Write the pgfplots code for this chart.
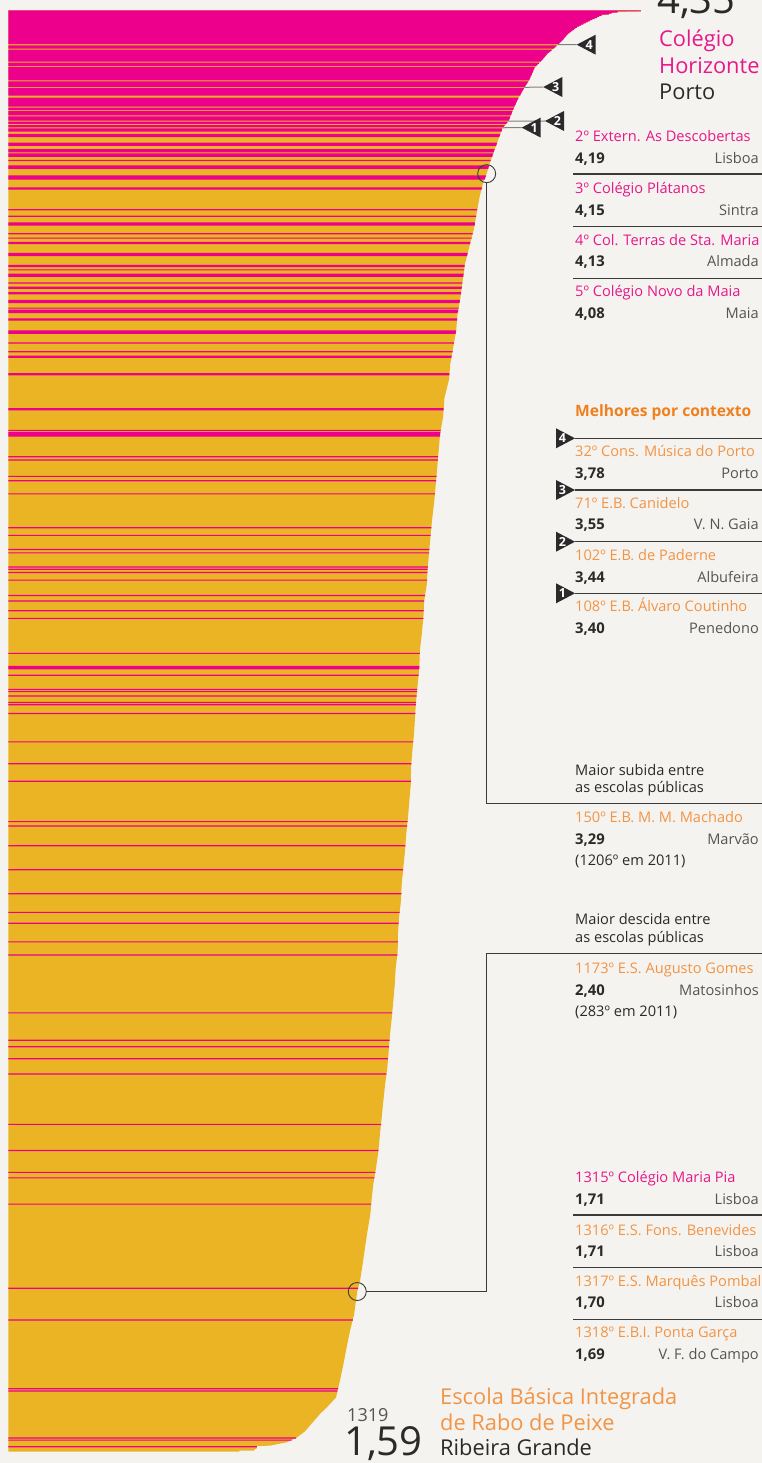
\documentclass[border=0pt]{standalone}
\usepackage{pgfplots}
\usepackage{pgfplotstable}
\pgfplotsset{compat=1.18}
\usepackage{fontspec}
\setmainfont{Open Sans}
\definecolor{bg}{HTML}{F5F3EF}
\definecolor{gold}{HTML}{EBB424}
\definecolor{mag}{HTML}{EC008C}
\definecolor{magtxt}{HTML}{E8178A}
\definecolor{org}{HTML}{F29445}
\definecolor{orgb}{HTML}{F07F1E}
\definecolor{dark}{HTML}{2A2A2A}
\definecolor{city}{HTML}{555555}
\definecolor{rule}{HTML}{3A3A3A}

% envelope of all 1319 bars (score, rank)
\pgfplotstableread{
score rank
0 0.5
4.35 0.5
4.35 1.5
4.19 2
4.15 3
4.13 4
4.08 5
4.00 10
3.91 16
3.85 22
3.81 28
3.78 32
3.71 40
3.67 46
3.62 53
3.58 65
3.55 71
3.50 83
3.47 92
3.44 102
3.40 108
3.35 126
3.31 141
3.29 150
3.27 156
3.24 172
3.22 187
3.20 202
3.17 217
3.14 233
3.125 248
3.11 263
3.09 278
3.08 294
3.06 309
3.04 324
3.03 339
3.00 355
2.99 373
2.97 388
2.96 403
2.95 419
2.94 434
2.93 449
2.916 465
2.905 480
2.895 495
2.885 510
2.878 526
2.86 541
2.855 556
2.843 572
2.83 587
2.827 602
2.816 617
2.804 633
2.797 648
2.79 663
2.779 678
2.77 693
2.768 709
2.758 724
2.749 739
2.737 754
2.728 770
2.717 785
2.706 800
2.70 816
2.687 831
2.68 846
2.678 862
2.664 877
2.658 892
2.648 907
2.637 923
2.625 938
2.616 953
2.607 968
2.591 984
2.579 999
2.568 1014
2.556 1029
2.545 1045
2.529 1060
2.51 1075
2.50 1087
2.49 1102
2.47 1118
2.453 1133
2.437 1148
2.419 1163
2.40 1173
2.378 1194
2.35 1209
2.327 1224
2.304 1240
2.28 1255
2.254 1270
2.19 1279
2.144 1285
2.098 1292
2.04 1301
1.98 1307
1.915 1311
1.80 1314
1.71 1314.5
1.71 1316.5
1.70 1317
1.69 1318
1.69 1318.5
1.59 1318.5
1.59 1319.5
0 1319.5
}\envelope

% private schools (magenta bars): rank, score
\pgfplotstableread{
rank score
1 4.35
2 4.19
3 4.15
4 4.13
5 4.08
6 4.064
7 4.048
8 4.032
9 4.016
10 4.000
11 3.985
12 3.970
13 3.955
14 3.940
15 3.925
16 3.910
17 3.900
18 3.890
19 3.880
20 3.870
21 3.860
22 3.850
23 3.843
24 3.837
25 3.830
26 3.823
27 3.817
28 3.810
29 3.803
30 3.795
31 3.788
33 3.771
34 3.763
35 3.754
37 3.736
38 3.728
39 3.719
40 3.710
41 3.703
42 3.697
43 3.690
44 3.683
45 3.677
46 3.670
47 3.663
49 3.649
50 3.641
51 3.634
53 3.620
54 3.617
55 3.613
56 3.610
57 3.607
58 3.603
59 3.600
60 3.597
61 3.593
62 3.590
63 3.587
64 3.583
66 3.575
67 3.570
68 3.565
69 3.560
70 3.555
72 3.546
73 3.542
74 3.538
75 3.533
76 3.529
77 3.525
78 3.521
81 3.508
82 3.504
83 3.500
84 3.497
85 3.493
86 3.490
87 3.487
88 3.483
90 3.477
91 3.473
93 3.467
94 3.464
95 3.461
96 3.458
98 3.452
99 3.449
100 3.446
101 3.443
103 3.433
104 3.427
106 3.413
107 3.407
109 3.397
110 3.394
111 3.392
114 3.383
115 3.381
116 3.378
122 3.361
123 3.358
124 3.356
128 3.345
129 3.342
130 3.339
132 3.334
133 3.331
134 3.329
138 3.318
143 3.306
144 3.303
145 3.301
152 3.287
153 3.283
154 3.280
155 3.277
163 3.257
164 3.255
183 3.225
189 3.217
195 3.209
196 3.208
197 3.207
205 3.194
209 3.186
213 3.178
214 3.176
223 3.159
224 3.157
225 3.155
234 3.139
235 3.138
238 3.135
242 3.131
243 3.130
244 3.129
250 3.123
254 3.119
255 3.118
259 3.114
260 3.113
266 3.106
267 3.105
268 3.103
273 3.097
275 3.094
276 3.093
277 3.091
283 3.087
284 3.086
294 3.080
295 3.079
296 3.077
305 3.065
313 3.055
317 3.049
318 3.048
333 3.034
334 3.033
365 2.994
366 2.994
385 2.974
387 2.971
388 2.970
389 2.969
390 2.969
409 2.956
412 2.954
427 2.945
431 2.942
443 2.934
474 2.909
481 2.904
494 2.896
497 2.894
510 2.885
512 2.884
515 2.883
522 2.880
536 2.866
541 2.860
550 2.857
557 2.854
589 2.830
601 2.827
602 2.827
603 2.826
609 2.822
622 2.812
624 2.811
628 2.808
634 2.804
636 2.803
644 2.799
670 2.785
690 2.772
706 2.768
743 2.746
747 2.743
765 2.731
787 2.716
809 2.703
826 2.691
836 2.685
853 2.679
865 2.675
918 2.640
943 2.622
949 2.618
960 2.611
974 2.601
1020 2.564
1044 2.546
1064 2.524
1069 2.518
1093 2.496
1170 2.406
1199 2.369
1262 2.268
1264 2.264
1307 1.980
1309 1.948
1315 1.710
}\private

\tikzset{
  sm/.style={font=\fontsize{14.6}{17}\selectfont},
  smb/.style={font=\fontsize{14.8}{17}\selectfont\bfseries},
  big/.style={font=\fontsize{21.8}{25}\selectfont},
}
\newcommand{\tl}[4]{\node[anchor=base west,inner sep=0,#3] at (#1pt,-#2pt) {#4};}
\newcommand{\tr}[4]{\node[anchor=base east,inner sep=0,#3] at (#1pt,-#2pt) {#4};}
\newcommand{\tril}[3]{%
  \fill[dark] (#1pt,-#2pt) -- ++(19pt,10pt) -- ++(0pt,-20pt) -- cycle;
  \node[text=white,inner sep=0,font=\fontsize{12.5}{12.5}\selectfont\bfseries] at ({#1pt+12.5pt},-#2pt) {#3};}
\newcommand{\trir}[3]{%
  \fill[dark] (#1pt,-#2pt) -- ++(-19pt,10pt) -- ++(0pt,-20pt) -- cycle;
  \node[text=white,inner sep=0,font=\fontsize{12.5}{12.5}\selectfont\bfseries] at ({#1pt-12.5pt},-#2pt) {#3};}
\newcommand{\entry}[6]{% y of title baseline, title colour, title, value, city
  \tl{575}{#1}{sm,text=#2}{#3}
  \tl{575}{#4}{smb,text=dark}{#5}
  \tr{759}{#4}{sm,text=city}{#6}}

\begin{document}
\begin{tikzpicture}
\fill[bg] (0pt,0pt) rectangle (762pt,-1463pt);
\useasboundingbox (0pt,0pt) rectangle (762pt,-1463pt);
\begin{axis}[
  at={(0pt,0pt)}, anchor=north west,
  scale only axis, width=762pt, height=1463pt,
  xmin=-0.05708, xmax=5.1836,
  ymin=-8.93, ymax=1329.96, y dir=reverse,
  hide axis, clip=false,
]
\addplot[fill=gold, draw=none] table[x=score, y=rank] {\envelope};
\addplot[xbar, bar width=1.06, fill=mag, draw=none] table[x=score, y=rank] {\private};
\addplot[only marks, mark=o, mark size=9pt, mark options={draw=rule, line width=0.9pt}]
  coordinates {(3.29,150) (2.40,1173)};
\coordinate (c1) at (axis cs:3.29,150);
\coordinate (c2) at (axis cs:2.40,1173);
\coordinate (m4) at (axis cs:3.78,32);
\coordinate (m3) at (axis cs:3.55,71);
\coordinate (m2) at (axis cs:3.44,102);
\coordinate (m1) at (axis cs:3.40,108);
\end{axis}

% connector lines
\draw[rule, line width=1pt] ([yshift=-9pt]c1) |- (762pt,-803pt);
\draw[rule, line width=1pt] ([xshift=9pt]c2) -| (486.7pt,-953pt) -- (762pt,-953pt);
\draw[gray, line width=1pt] (m4) -- (576.7pt,-44.7pt);
\draw[gray, line width=1pt] (m3) -- (543.3pt,-87.0pt);
\draw[gray, line width=1pt] (m2) -- (545pt,-121.0pt);
\draw[gray, line width=1pt] (m1) -- (521.7pt,-127.6pt);
\tril{576.7}{44.7}{4}
\tril{543.3}{87.0}{3}
\tril{545}{121.0}{2}
\tril{521.7}{127.6}{1}

% top label
\tl{657}{13.3}{font=\fontsize{40}{40}\selectfont,text=dark}{4,35}
\tl{659}{46.7}{big,text=magtxt}{Colégio}
\tl{659}{74}{big,text=magtxt}{Horizonte}
\tl{659}{100}{big,text=dark}{Porto}

% top 2-5
\entry{141.7}{magtxt}{2º Extern. As Descobertas}{163.3}{4,19}{Lisboa}
\draw[rule, line width=1.2pt] (573pt,-174pt) -- (762pt,-174pt);
\entry{194}{magtxt}{3º Colégio Plátanos}{215.3}{4,15}{Sintra}
\draw[rule, line width=1.2pt] (573pt,-226.7pt) -- (762pt,-226.7pt);
\entry{246}{magtxt}{4º Col. Terras de Sta. Maria}{266.7}{4,13}{Almada}
\draw[rule, line width=1.2pt] (573pt,-278.3pt) -- (762pt,-278.3pt);
\entry{296.7}{magtxt}{5º Colégio Novo da Maia}{318.3}{4,08}{Maia}

% best by context
\tl{575}{416.7}{font=\fontsize{15.6}{18}\selectfont\bfseries,text=orgb}{Melhores por contexto}
\draw[rule, line width=1.2pt] (575pt,-438.3pt) -- (762pt,-438.3pt);
\trir{575}{438.3}{4}
\entry{456.7}{org}{32º Cons. Música do Porto}{478.3}{3,78}{Porto}
\draw[rule, line width=1.2pt] (575pt,-490pt) -- (762pt,-490pt);
\trir{575}{490}{3}
\entry{508.3}{org}{71º E.B. Canidelo}{529.7}{3,55}{V. N. Gaia}
\draw[rule, line width=1.2pt] (575pt,-541.7pt) -- (762pt,-541.7pt);
\trir{575}{541.7}{2}
\entry{560}{org}{102º E.B. de Paderne}{582}{3,44}{Albufeira}
\draw[rule, line width=1.2pt] (575pt,-593.3pt) -- (762pt,-593.3pt);
\trir{575}{593.3}{1}
\entry{611.7}{org}{108º E.B. Álvaro Coutinho}{633.3}{3,40}{Penedono}

% biggest rise
\tl{575}{775}{sm,text=dark}{Maior subida entre}
\tl{575}{792}{sm,text=dark}{as escolas públicas}
\entry{822}{org}{150º E.B. M. M. Machado}{844}{3,29}{Marvão}
\tl{575}{865}{sm,text=dark}{(1206º em 2011)}

% biggest fall
\tl{575}{924}{sm,text=dark}{Maior descida entre}
\tl{575}{942}{sm,text=dark}{as escolas públicas}
\entry{973}{org}{1173º E.S. Augusto Gomes}{995}{2,40}{Matosinhos}
\tl{575}{1016}{sm,text=dark}{(283º em 2011)}

% bottom 1315-1318
\entry{1182.7}{magtxt}{1315º Colégio Maria Pia}{1204.3}{1,71}{Lisboa}
\draw[rule, line width=1.2pt] (573pt,-1215pt) -- (762pt,-1215pt);
\entry{1235}{org}{1316º E.S. Fons. Benevides}{1256}{1,71}{Lisboa}
\draw[rule, line width=1.2pt] (573pt,-1267.3pt) -- (762pt,-1267.3pt);
\entry{1286.7}{org}{1317º E.S. Marquês Pombal}{1307.7}{1,70}{Lisboa}
\draw[rule, line width=1.2pt] (573pt,-1319.3pt) -- (762pt,-1319.3pt);
\entry{1337.7}{org}{1318º E.B.I. Ponta Garça}{1359}{1,69}{V. F. do Campo}

% last school
\tl{347}{1421}{font=\fontsize{18}{18}\selectfont,text=city}{1319}
\tl{344}{1455}{font=\fontsize{40}{40}\selectfont,text=dark}{1,59}
\tl{440}{1404}{big,text=org}{Escola Básica Integrada}
\tl{440}{1430}{big,text=org}{de Rabo de Peixe}
\tl{440}{1455}{big,text=dark}{Ribeira Grande}
\end{tikzpicture}
\end{document}
